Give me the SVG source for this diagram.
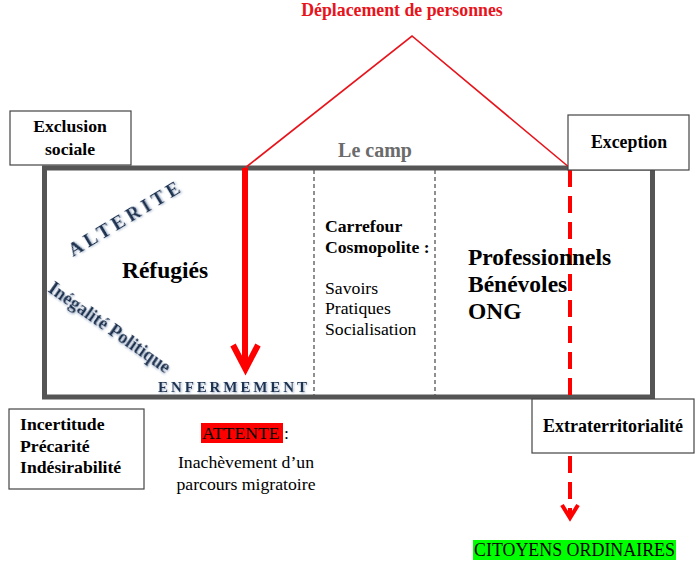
<svg xmlns="http://www.w3.org/2000/svg" width="699" height="574" viewBox="0 0 699 574" font-family="'Liberation Serif', 'Times New Roman', 'DejaVu Serif', serif">
<style>
.box{fill:#fff;stroke:#444;stroke-width:1.2}
.b{font-weight:bold;fill:#000}
.r{fill:#000}
.navy{font-weight:bold;fill:#1c3150}
.dash{stroke:#555;stroke-width:1.3;stroke-dasharray:4 3}
</style>
<defs>
<filter id="sh" x="-10%" y="-10%" width="120%" height="130%">
<feDropShadow dx="1" dy="1" stdDeviation="0.8" flood-color="#8aa0c0" flood-opacity="0.8"/>
</filter>
</defs>
<rect width="699" height="574" fill="#fff"/>
<g id="camp">
<rect x="44.5" y="168" width="608" height="229" fill="#fff" stroke="#555" stroke-width="5"/>
<line class="dash" x1="314" y1="170" x2="314" y2="395"/>
<line class="dash" x1="435" y1="170" x2="435" y2="395"/>
<text class="b" x="375" y="157" font-size="20" text-anchor="middle" style="fill:#6b6b6b">Le camp</text>
</g>
<g id="connectors">
<polyline points="245,168 412,36 570,168" fill="none" stroke="#e8141c" stroke-width="1.6"/>
<line x1="245" y1="168" x2="245" y2="368" stroke="#f00" stroke-width="6"/>
<polyline points="233,345 245.5,369 258,345" fill="none" stroke="#f00" stroke-width="6" stroke-linejoin="miter"/>
<line x1="570" y1="170" x2="570" y2="514" stroke="#f00" stroke-width="4" stroke-dasharray="17 9"/>
<polyline points="562,505 570,518 578,505" fill="none" stroke="#f00" stroke-width="4"/>
</g>
<g id="deplacement">
<text class="b" x="402" y="16" font-size="17.8" text-anchor="middle" style="fill:#e8141c">Déplacement de personnes</text>
</g>
<g id="exclusion">
<rect class="box" x="10" y="111" width="121" height="54"/>
<text class="b" x="70" y="132" font-size="17.7" text-anchor="middle">Exclusion</text>
<text class="b" x="70" y="155" font-size="17.7" text-anchor="middle">sociale</text>
</g>
<g id="exception">
<rect class="box" x="568" y="115" width="121" height="55"/>
<text class="b" x="629" y="148" font-size="17.8" text-anchor="middle">Exception</text>
</g>
<g id="refugies">
<text class="navy" font-size="19" letter-spacing="4.3" filter="url(#sh)" transform="translate(73,257) rotate(-31)">ALTERITE</text>
<text class="navy" font-size="18.5" filter="url(#sh)" transform="translate(47,291) rotate(35)">Inégalité Politique</text>
<text class="b" x="165" y="278" font-size="23.5" text-anchor="middle">Réfugiés</text>
<text class="navy" x="158" y="392" font-size="15" letter-spacing="2.9" filter="url(#sh)">ENFERMEMENT</text>
</g>
<g id="carrefour">
<text class="b" x="325" y="232" font-size="17.7">Carrefour</text>
<text class="b" x="325" y="253" font-size="17.7">Cosmopolite :</text>
<text class="r" x="325" y="294" font-size="17.7">Savoirs</text>
<text class="r" x="325" y="314" font-size="17.7">Pratiques</text>
<text class="r" x="325" y="335" font-size="17.7">Socialisation</text>
</g>
<g id="professionnels">
<text class="b" x="468" y="265" font-size="23.5">Professionnels</text>
<text class="b" x="468" y="292" font-size="23.5">Bénévoles</text>
<text class="b" x="468" y="319" font-size="23.5">ONG</text>
</g>
<g id="incertitude">
<rect class="box" x="9" y="409" width="135" height="80"/>
<text class="b" x="20" y="430" font-size="17.7">Incertitude</text>
<text class="b" x="20" y="452" font-size="17.7">Précarité</text>
<text class="b" x="20" y="473" font-size="17.7">Indésirabilité</text>
</g>
<g id="attente">
<rect x="201" y="423" width="82" height="20" fill="#f00"/>
<text class="r" x="202" y="439" font-size="17.7">ATTENTE<tspan>  :</tspan></text>
<text class="r" x="246" y="468" font-size="17.7" text-anchor="middle">Inachèvement d’un</text>
<text class="r" x="246" y="490" font-size="17.7" text-anchor="middle">parcours migratoire</text>
</g>
<g id="extraterritorialite">
<rect class="box" x="532" y="399" width="162" height="54"/>
<text class="b" x="613" y="432" font-size="18" text-anchor="middle">Extraterritorialité</text>
</g>
<g id="citoyens">
<rect x="473" y="540" width="203" height="20" fill="#00ff00"/>
<text class="r" x="474" y="556" font-size="17.9">CITOYENS ORDINAIRES</text>
</g>
</svg>
